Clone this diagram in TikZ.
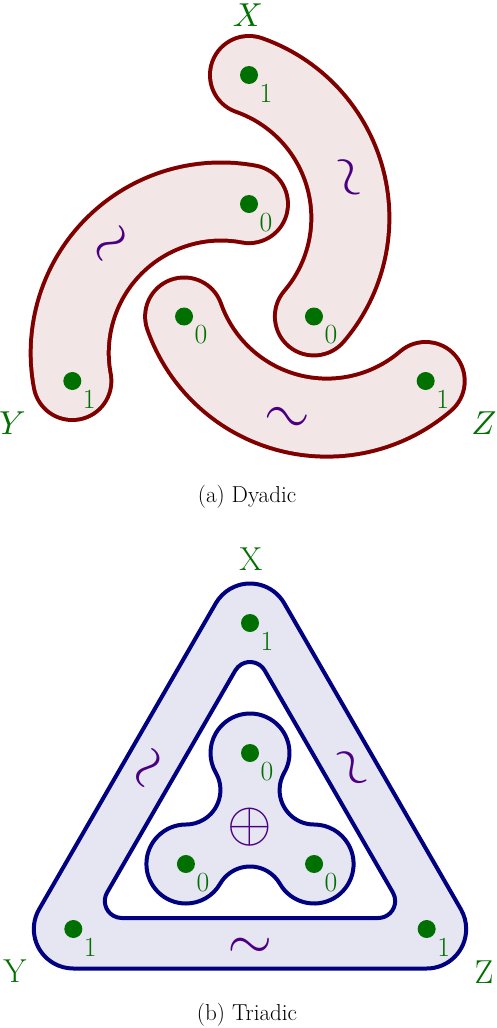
\documentclass[tikz,border=0pt]{standalone}
\usepackage{graphicx}
\definecolor{dred}{RGB}{128,0,0}
\definecolor{dfill}{RGB}{242,230,230}
\definecolor{bblue}{RGB}{0,0,128}
\definecolor{bfill}{RGB}{230,230,242}
\definecolor{dgreen}{RGB}{0,112,0}
\definecolor{indig}{RGB}{75,0,130}
\newcommand{\bigsym}[1]{\scalebox{5.74}{$#1$}}
\newcommand{\bigletter}[1]{\scalebox{3.32}{$#1$}}
\begin{document}
\begin{tikzpicture}[x=1pt,y=1pt,
  dot/.style={circle, fill=dgreen, inner sep=0pt, minimum size=18pt},
  digit/.style={text=dgreen, font=\fontsize{27.7}{33}\selectfont, inner sep=0pt},
  corner/.style={text=dgreen, font=\fontsize{33.2}{40}\selectfont, inner sep=0pt},
  mcorner/.style={text=dgreen, inner sep=0pt},
  twiddle/.style={text=indig, inner sep=0pt},
  caption/.style={font=\fontsize{23.07}{28}\selectfont, inner sep=0pt},
  tubeedge/.style={dred, line width=82pt, line cap=round},
  tubefill/.style={dfill, line width=74pt, line cap=round},
  bandedge/.style={bblue, line width=4pt, line join=round}]
\useasboundingbox (0,0) rectangle (496,-1028);

% ---------- (a) Dyadic ----------
\begin{scope}[shift={(249,-279)}]
  \foreach \k in {0,1,2}{
    \begin{scope}[rotate=120*\k]
      \draw[tubeedge] (0,204) arc[start angle=70.7, end angle=-40.6, radius=151.4];
      \draw[tubefill] (0,204) arc[start angle=70.7, end angle=-40.6, radius=151.4];
      \pgfmathsetmacro{\rr}{-75+120*\k}
      \node[twiddle, rotate=\rr] (tw\k) at (96.2,100.3) {\bigsym{\sim}};
    \end{scope}
  }
  \node[dot] (ax1) at (90:204) {};
  \node[dot] (ay1) at (210:204) {};
  \node[dot] (az1) at (330:204) {};
  \node[dot] (ax0) at (90:75) {};
  \node[dot] (ay0) at (210:75) {};
  \node[dot] (az0) at (330:75) {};
  \path (90:204) ++(17,-18.5) node[digit] (lax1) {1};
  \path (210:204) ++(17,-18.5) node[digit] (lay1) {1};
  \path (330:204) ++(17,-18.5) node[digit] (laz1) {1};
  \path (90:75) ++(17,-18.5) node[digit] (lax0) {0};
  \path (210:75) ++(17,-18.5) node[digit] (lay0) {0};
  \path (330:75) ++(17,-18.5) node[digit] (laz0) {0};
\end{scope}
\node[mcorner] (aX) at (248,-15) {\bigletter{X}};
\node[mcorner] (aY) at (12.5,-423.5) {\bigletter{Y}};
\node[mcorner] (aZ) at (484,-423.5) {\bigletter{Z}};
\node[caption] (capa) at (247,-497) {(a) Dyadic};

% ---------- (b) Triadic ----------
\begin{scope}[shift={(250,-827)}]
  \path[fill=bfill, even odd rule]
    (34.21,223.75) arc[start angle=30, end angle=150, radius=39.5]
    -- (-210.88,-82.25) arc[start angle=150, end angle=270, radius=39.5]
    -- (176.67,-141.5) arc[start angle=270, end angle=390, radius=39.5] -- cycle
    (14.72,156.5) arc[start angle=30, end angle=150, radius=17]
    -- (-142.89,-65.5) arc[start angle=150, end angle=270, radius=17]
    -- (128.17,-91) arc[start angle=270, end angle=390, radius=17] -- cycle;
  \draw[bandedge]
    (34.21,223.75) arc[start angle=30, end angle=150, radius=39.5]
    -- (-210.88,-82.25) arc[start angle=150, end angle=270, radius=39.5]
    -- (176.67,-141.5) arc[start angle=270, end angle=390, radius=39.5] -- cycle;
  \draw[bandedge]
    (14.72,156.5) arc[start angle=30, end angle=150, radius=17]
    -- (-142.89,-65.5) arc[start angle=150, end angle=270, radius=17]
    -- (128.17,-91) arc[start angle=270, end angle=390, radius=17] -- cycle;
  \draw[bandedge, fill=bfill]
    (34.21,54.25) arc[start angle=-30, end angle=210, radius=39.5]
    arc[start angle=30, end angle=-90, radius=34.5]
    arc[start angle=90, end angle=330, radius=39.5]
    arc[start angle=150, end angle=30, radius=34.5]
    arc[start angle=210, end angle=450, radius=39.5]
    arc[start angle=270, end angle=150, radius=34.5] -- cycle;
  \node[twiddle, rotate=60] (twl) at (150:114) {\bigsym{\sim}};
  \node[twiddle, rotate=-60] (twr) at (30:114) {\bigsym{\sim}};
  \node[twiddle, rotate=180] (twb) at (270:114) {\bigsym{\sim}};
  \node[twiddle] (opl) at (0,0) {\bigsym{\oplus}};
  \node[dot] (bx1) at (90:204) {};
  \node[dot] (by1) at (210:204) {};
  \node[dot] (bz1) at (330:204) {};
  \node[dot] (bx0) at (90:74) {};
  \node[dot] (by0) at (210:74) {};
  \node[dot] (bz0) at (330:74) {};
  \path (90:204) ++(17,-18.5) node[digit] (lbx1) {1};
  \path (210:204) ++(17,-18.5) node[digit] (lby1) {1};
  \path (330:204) ++(17,-18.5) node[digit] (lbz1) {1};
  \path (90:74) ++(17,-18.5) node[digit] (lbx0) {0};
  \path (210:74) ++(17,-18.5) node[digit] (lby0) {0};
  \path (330:74) ++(17,-18.5) node[digit] (lbz0) {0};
\end{scope}
\node[corner] (bX) at (251,-559) {X};
\node[corner] (bY) at (15,-971.5) {Y};
\node[corner] (bZ) at (484,-972) {Z};
\node[caption] (capb) at (247,-1015) {(b) Triadic};
\end{tikzpicture}
\end{document}
